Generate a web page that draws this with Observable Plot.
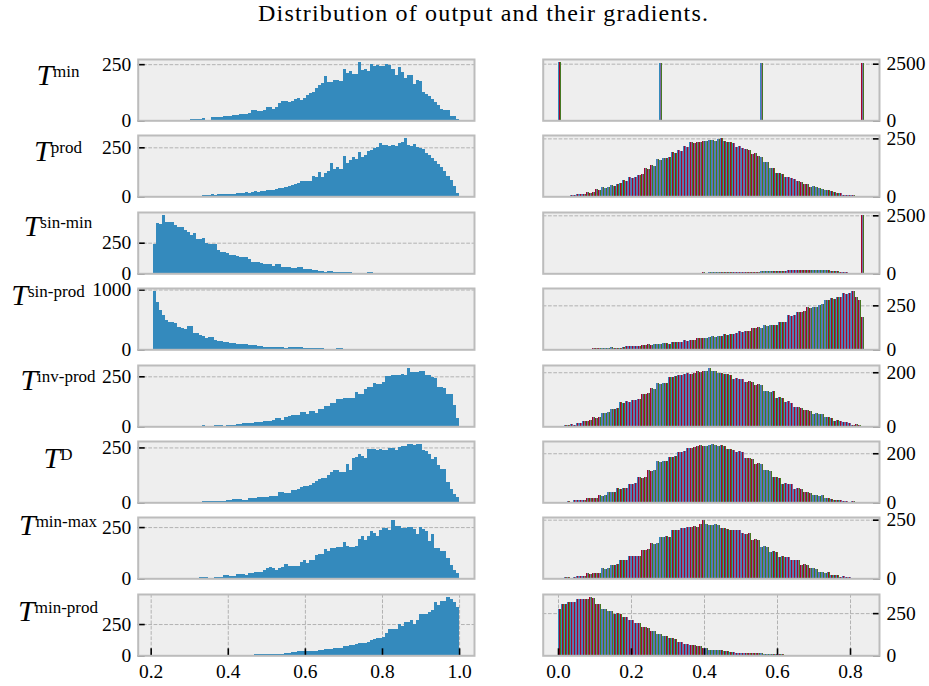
<!DOCTYPE html>
<html><head><meta charset="utf-8">
<script src="https://cdn.jsdelivr.net/npm/d3@7"></script>
<script src="https://cdn.jsdelivr.net/npm/@observablehq/plot@0.6"></script>
<style>
body{margin:0;background:#fff;}
#chart{position:relative;width:929px;height:686px;overflow:hidden;font-family:"Liberation Serif",serif;}
</style></head><body><div id="chart"></div>
<script>
// ---------------- DATA ----------------
const title = "Distribution of output and their gradients.";
const rowNames = ["min","prod","sin-min","sin-prod","inv-prod","D","min-max","min-prod"];

// output histograms (left column): 100 bins starting at outputBinStart
const outputBinStart = 0.206, outputBinWidth = 0.00793;
const outMin = [
0,0,0,0,0,0,0,0,0,0,
0,0,7,6,7,7,12,3,0,14,
16,13,14,18,18,18,24,25,28,30,
30,34,45,47,40,40,48,60,60,52,
58,78,84,87,82,87,97,100,90,100,
112,123,127,146,155,165,198,169,172,180,
180,177,229,210,220,207,204,260,224,229,
220,251,242,247,242,242,250,248,229,202,
238,214,190,202,202,162,180,176,124,117,
106,96,83,66,52,47,47,18,18,7];
const outProd = [
2,1,2,2,1,2,3,2,3,2,
3,2,3,3,4,4,5,8,8,10,
8,13,12,14,12,14,12,17,16,18,
20,18,22,26,24,28,28,32,34,34,
36,40,44,50,52,58,62,70,76,78,
78,76,102,96,124,100,120,128,172,140,
150,140,206,170,185,200,190,226,200,212,
230,236,246,250,270,262,264,258,262,256,
272,276,298,262,258,268,252,248,240,220,
212,196,180,165,150,130,104,85,52,18];
const outSinMin = [
238,410,405,477,420,416,416,394,380,380,
352,338,311,333,283,283,288,247,241,241,
241,191,172,172,163,152,152,144,135,130,
130,116,94,94,94,88,75,75,80,61,
75,75,55,52,52,47,47,55,55,33,
38,38,27,27,19,19,14,19,19,14,
8,8,11,10,14,5,5,4,5,6,
14,10,5,4,5,4,2,0,0,0,
1,0,0,0,0,1,0,0,0,0,
0,0,0,0,0,0,0,0,0,0];
const outSinProd = [
977,793,653,570,497,460,458,440,374,350,
335,385,385,273,273,234,218,195,206,206,
162,139,139,122,122,106,106,94,94,90,
85,78,78,67,60,55,39,39,39,39,
39,39,39,28,39,39,39,39,39,28,
28,28,28,20,28,28,11,11,11,11,
28,28,11,0,0,0,0,0,0,0,
0,0,0,0,0,0,0,0,0,0,
0,0,0,0,0,0,0,0,0,0,
0,0,0,0,0,0,0,0,0,0];
const outInvProd = [
2,2,3,2,2,2,3,2,2,2,
2,3,2,2,3,2,8,3,3,3,
8,8,8,3,5,8,8,12,12,15,
15,17,17,23,23,20,26,28,28,32,
42,42,32,49,52,57,57,57,73,73,
62,79,79,69,87,87,104,104,116,116,
136,136,141,141,140,141,174,162,162,188,
199,199,218,213,213,221,251,251,258,258,
255,263,255,292,272,272,272,275,275,255,
255,247,242,196,196,191,162,162,107,40];
const outD = [
0,0,0,0,0,0,0,0,0,0,
3,3,2,0,0,0,5,5,4,5,
5,7,8,8,9,10,15,15,14,12,
12,18,18,18,23,23,24,26,28,28,
30,46,46,43,43,54,54,62,69,72,
72,77,89,95,104,110,110,123,138,146,
146,138,140,176,146,202,207,222,210,202,
242,245,245,238,241,240,238,248,248,238,
250,258,258,266,266,261,264,264,238,233,
220,199,207,169,153,153,92,61,38,23];
const outMinMax = [
0,0,0,0,0,0,0,0,0,0,
0,0,0,0,0,8,5,4,3,3,
8,8,8,16,16,13,13,20,20,20,
16,25,25,30,30,30,40,49,54,48,
41,49,55,69,61,61,61,61,82,90,
74,90,90,115,120,118,145,132,148,148,
152,152,176,156,152,152,160,190,206,189,
206,230,219,206,234,247,247,234,285,255,
255,247,247,248,250,239,217,250,240,230,
181,214,148,148,132,132,99,66,41,25];
const outMinProd = [
3,2,3,2,3,3,2,3,3,2,
3,3,2,3,3,3,3,4,5,4,
5,4,5,5,4,5,5,5,4,5,
5,5,5,11,11,11,11,12,12,12,
14,14,14,19,19,27,27,33,33,38,
38,33,33,38,43,43,49,49,54,60,
60,60,73,73,81,81,87,95,95,100,
106,119,128,141,136,147,182,209,214,214,
250,231,263,270,282,250,282,331,331,331,
344,364,426,399,431,431,467,453,426,385];

// gradient histograms (right column): 100 bins starting at gradBinStart, 4 inputs per bin
const gradBinStart = 0, gradBinWidth = 0.008375;
const gradMin = [
2578,0,0,0,0,0,0,0,0,0,
0,0,0,0,0,0,0,0,0,0,
0,0,0,0,0,0,0,0,0,0,
0,0,0,2540,0,0,0,0,0,0,
0,0,0,0,0,0,0,0,0,0,
0,0,0,0,0,0,0,0,0,0,
0,0,0,0,0,0,2545,0,0,0,
0,0,0,0,0,0,0,0,0,0,
0,0,0,0,0,0,0,0,0,0,
0,0,0,0,0,0,0,0,0,2530];
const gradProd = [
0,0,0,0,7,5,8,11,12,17,
15,18,31,28,38,36,40,49,46,52,
59,71,68,82,80,85,92,95,120,118,
134,130,163,158,167,165,170,191,188,198,
196,215,212,233,228,233,236,240,238,243,
245,240,247,252,240,236,233,228,212,215,
208,205,200,184,186,172,170,148,150,120,
122,99,101,96,85,83,78,76,64,62,
54,52,42,44,40,35,33,28,26,21,
20,14,13,7,6,7,4,0,0,0];
const gradSinMin = [
0,0,0,0,0,0,0,0,0,0,
0,0,0,0,0,0,0,0,0,0,
0,0,0,0,0,0,0,5,0,4,
6,5,8,7,9,10,8,12,14,12,
15,18,16,20,22,30,32,35,33,38,
40,42,45,44,45,50,55,58,60,62,
65,68,70,72,75,74,78,90,95,92,
98,100,96,100,120,125,130,128,150,155,
160,158,150,148,145,150,142,148,140,100,
105,98,55,50,45,0,0,0,0,2517];
const gradSinProd = [
0,0,0,0,0,0,4,0,0,0,
0,8,7,8,9,8,10,11,10,9,
10,12,19,18,20,19,21,27,26,28,
27,29,32,31,33,34,32,42,40,44,
42,51,50,52,53,65,63,66,65,68,
74,72,76,74,86,84,88,86,90,103,
100,105,103,122,120,124,122,137,135,140,
137,139,156,155,158,194,190,196,213,210,
215,238,235,240,238,252,255,280,278,290,
288,299,296,318,315,322,332,300,280,185];
const gradInvProd = [
0,0,6,5,7,6,11,12,21,20,
22,34,32,36,50,48,52,65,63,67,
90,88,92,90,99,97,101,121,118,124,
140,138,159,157,162,160,184,182,186,190,
188,192,196,194,198,203,200,205,203,216,
205,203,196,198,194,193,191,175,178,174,
176,165,167,163,153,155,151,130,132,128,
130,105,107,103,90,92,88,71,73,69,
59,61,57,46,48,44,46,34,36,32,
21,23,19,15,16,14,6,7,5,0];
const gradD = [
0,3,3,4,3,10,9,11,10,17,
16,18,17,28,27,29,41,40,42,58,
56,60,58,76,74,78,103,101,105,131,
129,133,168,166,170,168,186,184,188,206,
204,208,223,221,225,230,232,228,230,235,
238,233,230,232,228,216,218,214,206,208,
204,179,181,177,158,160,156,131,133,129,
103,105,101,76,78,74,76,55,57,53,
41,43,39,28,30,26,28,17,19,15,
10,11,9,4,5,3,4,0,0,0];
const gradMinMax = [
0,0,4,5,3,4,10,11,9,21,
20,22,21,23,43,41,45,57,55,59,
78,76,80,95,93,97,95,121,119,123,
149,147,151,178,176,180,178,206,204,208,
216,214,218,220,222,218,230,249,232,228,
228,230,226,213,215,211,206,208,204,206,
192,190,194,164,166,162,135,137,133,114,
116,112,92,94,90,92,78,80,76,57,
59,55,43,45,41,26,28,24,26,14,
15,13,7,8,6,7,0,0,0,0];
const gradMinProd = [
275,306,306,316,316,316,333,335,331,333,
346,340,306,306,275,275,262,262,246,248,
244,226,226,210,210,190,190,165,167,163,
145,145,125,125,115,115,101,103,99,81,
81,69,69,61,61,54,54,44,44,34,
34,34,30,30,24,24,20,20,16,16,
16,16,12,12,12,12,12,8,8,8,
8,6,6,6,3,3,3,3,3,3,
3,3,3,3,3,3,3,3,3,3,
3,3,3,3,3,3,3,3,3,3];

const leftYTicks = [250,250,250,1000,250,250,250,250];
const rightYTicks = [2500,250,2500,250,200,200,250,250];
const leftXTicks = [0.2,0.4,0.6,0.8,1.0];
const rightXTicks = [0.0,0.2,0.4,0.6,0.8];
const gradColors = ["#348ABD","#A60628","#7A68A6","#467821"];

const outputs = [outMin,outProd,outSinMin,outSinProd,outInvProd,outD,outMinMax,outMinProd];
const grads = [gradMin,gradProd,gradSinMin,gradSinProd,gradInvProd,gradD,gradMinMax,gradMinProd];

// ---------------- LAYOUT ----------------
const FONT = '"Liberation Serif", "DejaVu Serif", serif';
const FRAME_TOP0 = 59, ROW_PITCH = 76.4, FRAME_H = 61.3;
const SIDES = {
  left:  {svgX: 0,   width: 480, ml: 137.7, mr: 6},
  right: {svgX: 500, width: 429, ml: 42.7,  mr: 50}
};
const labelX = [58,58,58,48,58,58,58,58];
const labelDY = [26,26,24.5,16.7,25,26.7,17.7,26.7];

const chart = document.getElementById("chart");

function makePanel(counts, k, side) {
  const L = SIDES[side];
  const isBottom = k === 7;
  const mt = 8, mb = isBottom ? 36 : 8;
  const height = mt + FRAME_H + mb;
  const start = side === "left" ? outputBinStart : gradBinStart;
  const bw = side === "left" ? outputBinWidth : gradBinWidth;
  const bins = counts.map((c, i) => ({x0: start + i * bw, x1: start + (i + 1) * bw, count: c})).filter(d => d.count > 0);
  const lo = start, hi = start + counts.length * bw, pad = 0.05 * (hi - lo);
  const ymax = d3.max(counts) * 1.05;
  const yt = [0, side === "left" ? leftYTicks[k] : rightYTicks[k]];
  const xt = side === "left" ? leftXTicks : rightXTicks;
  const anchor = side;
  const grid = {stroke: "#b2b2b2", strokeOpacity: 1, strokeWidth: 1, strokeDasharray: "3.7,1.6"};
  const marks = [Plot.frame({fill: "#eeeeee"}), Plot.gridY([yt[1]], grid)];
  if (isBottom) marks.push(Plot.gridX(xt, grid));
  if (side === "left") {
    marks.push(Plot.rect(bins, {x1: "x0", x2: "x1", y1: 0, y2: "count", fill: "#348ABD", shapeRendering: "crispEdges"}));
  } else {
    gradColors.forEach((c, s) => marks.push(Plot.rect(bins, {
      x1: d => d.x0 + bw * (0.25 * s), x2: d => d.x0 + bw * (0.25 * (s + 1)),
      y1: 0, y2: "count", fill: c, shapeRendering: "crispEdges"})));
  }
  marks.push(Plot.axisY(yt, {anchor, tickSize: 7, dx: anchor === "left" ? 7 : -7, tickFormat: () => "", stroke: "#000", strokeWidth: 1.6, label: null}));
  marks.push(Plot.axisY(yt, {anchor, tickSize: 0, tickPadding: 7, tickFormat: d => String(d), label: null, fontSize: 19.5, fill: "#000"}));
  if (isBottom) {
    marks.push(Plot.axisX(xt, {anchor: "bottom", tickSize: 7, dy: -7, tickFormat: () => "", stroke: "#000", strokeWidth: 1.6, label: null}));
    marks.push(Plot.axisX(xt, {anchor: "bottom", tickSize: 0, tickPadding: 8, tickFormat: d3.format(".1f"), label: null, fontSize: 19.5, fill: "#000"}));
  }
  marks.push(Plot.frame({stroke: "#bcbcbc", strokeWidth: 2}));
  const svg = Plot.plot({
    width: L.width, height,
    marginLeft: L.ml, marginRight: L.mr, marginTop: mt, marginBottom: mb,
    x: {domain: [lo - pad, hi + pad], axis: null},
    y: {domain: [0, ymax], axis: null},
    style: {background: "transparent", fontFamily: FONT, overflow: "visible", color: "#000"},
    marks
  });
  svg.style.position = "absolute";
  svg.style.left = L.svgX + "px";
  svg.style.top = (FRAME_TOP0 + k * ROW_PITCH - mt) + "px";
  svg.style.maxWidth = "none";
  chart.appendChild(svg);
}

outputs.forEach((c, k) => makePanel(c, k, "left"));
grads.forEach((c, k) => makePanel(c, k, "right"));

const overlay = d3.select(chart).append("svg")
  .attr("width", 929).attr("height", 686)
  .style("position", "absolute").style("left", "0px").style("top", "0px")
  .style("pointer-events", "none").style("overflow", "visible");
overlay.append("text").attr("x", 483).attr("y", 21).attr("text-anchor", "middle")
  .attr("font-family", FONT).attr("font-size", 24).attr("fill", "#000")
  .attr("textLength", 450).attr("lengthAdjust", "spacing").text(title);
rowNames.forEach((n, k) => {
  const t = overlay.append("text")
    .attr("x", labelX[k]).attr("y", FRAME_TOP0 + k * ROW_PITCH + labelDY[k])
    .attr("text-anchor", "middle").attr("font-family", FONT).attr("fill", "#000");
  t.append("tspan").attr("font-style", "italic").attr("font-size", 30).text("T");
  t.append("tspan").attr("font-size", 17).attr("dy", -8).text(n);
});
</script></body></html>
